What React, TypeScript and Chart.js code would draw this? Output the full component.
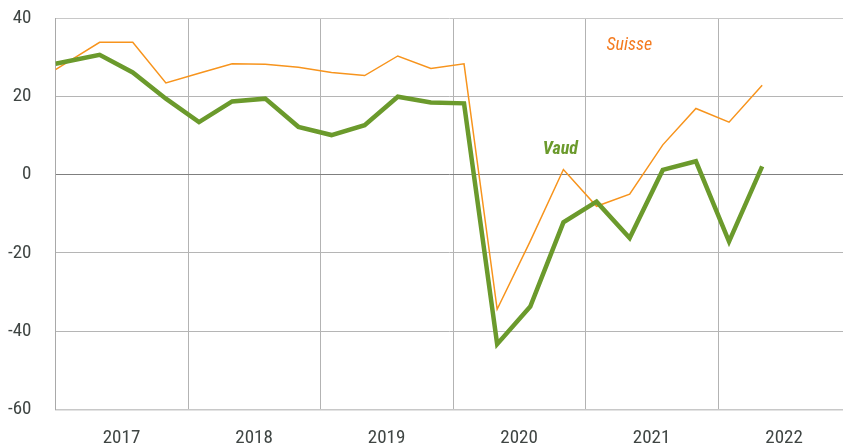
import { useEffect, useRef } from "react";
import { Chart, registerables } from "chart.js";

Chart.register(...registerables);

// Periods as fractional years (first point at the start of 2017, then quarterly)
const periods = [
  2017.0, 2017.333, 2017.583, 2017.833, 2018.083, 2018.333, 2018.583, 2018.833,
  2019.083, 2019.333, 2019.583, 2019.833, 2020.083, 2020.333, 2020.583, 2020.833,
  2021.083, 2021.333, 2021.583, 2021.833, 2022.083, 2022.333,
];

const vaud = [
  28.3, 30.6, 26.1, 19.4, 13.4, 18.7, 19.4, 12.2, 10.1, 12.6, 19.9, 18.4, 18.2,
  -43.3, -33.7, -12.2, -6.9, -16.2, 1.2, 3.4, -17.1, 2.1,
];

const suisse = [
  26.8, 33.8, 33.8, 23.4, 25.9, 28.3, 28.2, 27.4, 26.1, 25.3, 30.3, 27.1, 28.3,
  -34.4, -17.0, 1.3, -8.1, -5.0, 7.6, 16.9, 13.4, 22.8,
];

const yearTicks = [2017, 2018, 2019, 2020, 2021, 2022];
const yTicks = [-60, -40, -20, 0, 20, 40];

const FONT = "'Liberation Sans Narrow', 'Roboto Condensed', 'Roboto', sans-serif";
const GREEN = "#6b9a2c";
const ORANGE = "#f7941d";
const ORANGE_TEXT = "#f47b20";

const seriesLabels = {
  id: "seriesLabels",
  afterDatasetsDraw(chart: any) {
    const { ctx, scales } = chart;
    const x = scales.x;
    const y = scales.y;
    ctx.save();
    ctx.textAlign = "center";
    ctx.textBaseline = "middle";
    ctx.font = `italic 18px ${FONT}`;
    ctx.fillStyle = ORANGE_TEXT;
    ctx.fillText("Suisse", x.getPixelForValue(2021.33), y.getPixelForValue(32.9));
    ctx.font = `italic bold 18px ${FONT}`;
    ctx.fillStyle = GREEN;
    ctx.fillText("Vaud", x.getPixelForValue(2020.81), y.getPixelForValue(6.3));
    ctx.restore();
  },
};

export default function App() {
  const ref = useRef<HTMLCanvasElement>(null);

  useEffect(() => {
    if (!ref.current) return;
    const chart = new Chart(ref.current, {
      type: "line",
      data: {
        datasets: [
          {
            label: "Vaud",
            data: periods.map((p, i) => ({ x: p, y: vaud[i] })),
            borderColor: GREEN,
            backgroundColor: GREEN,
            borderWidth: 4.5,
            pointRadius: 0,
            tension: 0,
            fill: false,
          },
          {
            label: "Suisse",
            data: periods.map((p, i) => ({ x: p, y: suisse[i] })),
            borderColor: ORANGE,
            backgroundColor: ORANGE,
            borderWidth: 1.5,
            pointRadius: 0,
            tension: 0,
            fill: false,
          },
        ],
      },
      options: {
        responsive: false,
        animation: false,
        layout: { padding: { top: 18, left: 8, right: 0, bottom: 0 } },
        plugins: {
          legend: { display: false },
          tooltip: { enabled: false },
        },
        scales: {
          x: {
            type: "linear",
            min: 2017,
            max: 2022.943,
            afterBuildTicks: (s: any) => {
              s.ticks = yearTicks.map((v) => ({ value: v }));
            },
            afterFit: (s: any) => {
              s.paddingLeft = 0;
              s.paddingRight = 0;
              s.height = 36.5;
            },
            grid: { color: "#b3b3b3", lineWidth: 1, drawTicks: false },
            border: { color: "#c8c8c8", width: 1.5 },
            ticks: {
              padding: 19,
              labelOffset: 66,
              maxRotation: 0,
              autoSkip: false,
              color: "#3f4543",
              font: { family: FONT, size: 19, lineHeight: 1 },
              callback: (v: any) => String(v),
            },
          },
          y: {
            min: -60,
            max: 40,
            afterBuildTicks: (s: any) => {
              s.ticks = yTicks.map((v) => ({ value: v }));
            },
            afterFit: (s: any) => {
              s.width = 47.5;
              s.paddingTop = 0;
              s.paddingBottom = 0;
            },
            grid: {
              drawTicks: false,
              lineWidth: 1,
              color: (c: any) =>
                c.tick && c.tick.value === 0
                  ? "#7f7f7f"
                  : c.tick && c.tick.value === 40
                  ? "#c8c8c8"
                  : "#b5b5b5",
            },
            border: { color: "#a9a9a9" },
            ticks: {
              padding: 24,
              color: "#3f4543",
              font: { family: FONT, size: 19, lineHeight: 1 },
              callback: (v: any) => String(v),
            },
          },
        },
      },
      plugins: [seriesLabels],
    } as any);
    return () => chart.destroy();
  }, []);

  return (
    <div style={{ position: "absolute", left: 0, top: 0, width: 843, height: 446, background: "#fff" }}>
      <canvas ref={ref} width={843} height={446} style={{ display: "block" }} />
    </div>
  );
}
